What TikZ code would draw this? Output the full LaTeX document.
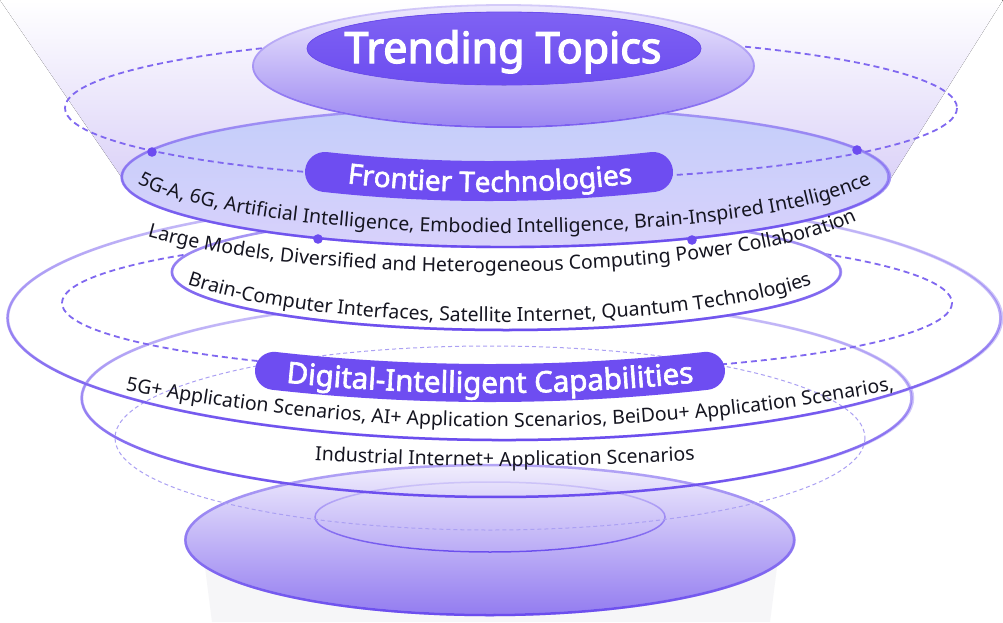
\documentclass[tikz,border=0pt]{standalone}
\usepackage{fontspec}
\setmainfont{Noto Sans}
\newfontfamily\pillsans{Noto Sans}[FakeBold=2.2]
\newfontfamily\titlesans{Noto Sans}[FakeBold=3]
\usetikzlibrary{decorations.text,fadings}
\definecolor{funB}{HTML}{DCD3F8}
\definecolor{pedc}{HTML}{F6F6F8}
\definecolor{discT}{HTML}{F0EDFD}
\definecolor{discB}{HTML}{937CF0}
\definecolor{ringL}{HTML}{CFC6F9}
\definecolor{ringD}{HTML}{6A4CEE}
\definecolor{ringAL}{HTML}{B4A6F6}
\definecolor{frontT}{HTML}{C4CEFA}
\definecolor{frontB}{HTML}{D8D1FB}
\definecolor{frontL}{HTML}{A496F5}
\definecolor{trT}{HTML}{EEEAFD}
\definecolor{trB}{HTML}{9B86F2}
\definecolor{trL}{HTML}{D4CBF9}
\definecolor{trD}{HTML}{7A5EF0}
\definecolor{inT}{HTML}{7F62F3}
\definecolor{inB}{HTML}{6C4DF0}
\definecolor{pillc}{HTML}{6E4DF1}
\definecolor{dashc}{HTML}{8068F0}
\definecolor{ringEc}{HTML}{ABA0F3}
\definecolor{dotc}{HTML}{6C4CF0}
\definecolor{txt}{HTML}{151520}
\tikzfading[name=fadetop, top color=transparent!100, bottom color=transparent!0]
\newcommand\bodyfont{\fontsize{19.5}{19.5}\selectfont}
\newcommand\pfont{\pillsans\fontsize{28}{28}\selectfont}
\newcommand\dfont{\pillsans\fontsize{29.5}{29.5}\selectfont}
\newcommand\tfont{\titlesans\fontsize{43}{43}\selectfont}
\newcommand\gring[6]{%
  \draw[#5, line width=#4] (#1) ellipse [x radius=#2, y radius=#3];
  \draw[#6, line width=#4, path fading=fadetop] (#1) ellipse [x radius=#2, y radius=#3];}
\tikzset{
  bodytext/.style={decorate, decoration={text along path, text={|\bodyfont|#1}, text align=center, text color=txt}},
  pilltext/.style={decorate, decoration={text along path, text={|\pfont|#1}, text align=center, text color=white}},
  digtext/.style={decorate, decoration={text along path, text={|\dfont|#1}, text align=center, text color=white}},
  pillstroke/.style={pillc, line width=40pt, line cap=round},
  dashring/.style={dashc, line width=1.8pt, dash pattern=on 6pt off 4pt},
  thindash/.style={ringEc, line width=1pt, dash pattern=on 4pt off 3pt},
  dotmark/.style={dotc},
  titletext/.style={anchor=base, text=white, font=\tfont, inner sep=0pt}
}
\begin{document}
\begin{tikzpicture}[x=1pt,y=-1pt]
\useasboundingbox (0,0) rectangle (1003,622);
\fill[white] (0,0) rectangle (1003,622);
% funnel
\fill[top color=white, bottom color=funB] (0,0) -- (1003,0) -- (891,178) -- (122,178) -- cycle;
% pedestal
\fill[pedc] (205,567) -- (212,622) -- (770,622) -- (777,567) -- cycle;
% bottom disc
\fill[top color=discT, bottom color=discB] (490,540) ellipse [x radius=304.5, y radius=75];
\gring{490,540}{304.5}{75}{2.5pt}{ringAL}{ringD}
\gring{490,517}{175}{35}{1.5pt}{ringL}{ringD}
% thin dashed ring
\draw[thindash] (490,438) ellipse [x radius=375, y radius=92];
% ring C
\gring{497.5,398}{415.5}{99}{2.5pt}{ringL}{ringD}
% ring B
\gring{505,318}{497}{122}{2.5pt}{ringL}{ringD}
% ring D dashed
\draw[dashring] (507,303) ellipse [x radius=445, y radius=70];
% ring A white
\fill[white] (506.5,272) ellipse [x radius=334.5, y radius=58];
\gring{506.5,272}{334.5}{58}{2.5pt}{ringAL}{ringD}
% frontier ellipse
\fill[top color=frontT, bottom color=frontB] (506,177) ellipse [x radius=384, y radius=70];
\gring{506,177}{384}{70}{2.4pt}{frontL}{ringD}
% top dashed ring
\draw[dashring] (511,108) ellipse [x radius=446, y radius=72];
% dots
\fill[dotmark] (152,152) circle [radius=4.8];
\fill[dotmark] (857,150) circle [radius=4.8];
\fill[dotmark] (318,239) circle [radius=4.8];
\fill[dotmark] (692,240) circle [radius=4.8];
% trending
\fill[top color=trT, bottom color=trB] (503.5,66) ellipse [x radius=250.5, y radius=61];
\gring{503.5,66}{250.5}{61}{1.8pt}{trL}{trD}
\fill[top color=inT, bottom color=inB] (504,48.5) ellipse [x radius=197, y radius=36.5];
\draw[inB, line width=.8pt] (504,48.5) ellipse [x radius=197, y radius=36.5];
\node[titletext] (title) at (503,63) {Trending Topics};
% pills
\draw[pillstroke] plot[domain=325:653, samples=40] (\x,{181-3.35*((\x-489)/100)^2});
\path[pilltext={Frontier Technologies}] plot[domain=300:680, samples=60] (\x,{192-4.3*((\x-490)/100)^2});
\draw[pillstroke, line width=38pt] plot[domain=274:706, samples=40] (\x,{383-2.6*((\x-490)/100)^2});
\path[digtext={Digital-Intelligent Capabilities}] plot[domain=250:730, samples=60] (\x,{393-2.5*((\x-490)/100)^2});
% curved texts
\path[bodytext={5G-A, 6G, Artificial Intelligence, Embodied Intelligence, Brain-Inspired Intelligence}]
  plot[domain=170:10, samples=120, variable=\t] ({505+390*cos(\t)},{158+75*sin(\t)});
\path[bodytext={Large Models, Diversified and Heterogeneous Computing Power Collaboration}]
  plot[domain=150:14, samples=120, variable=\t] ({480+410*cos(\t)},{187+85*sin(\t)});
\path[bodytext={Brain-Computer Interfaces, Satellite Internet, Quantum Technologies}]
  plot[domain=155:25, samples=120, variable=\t] ({500+370*cos(\t)},{242+80*sin(\t)});
\path[bodytext={5G+ Application Scenarios, AI+ Application Scenarios, BeiDou+ Application Scenarios,}]
  plot[domain=100:920, samples=100] (\x,{427-2.5*((\x-510)/100)^2});
\path[bodytext={Industrial Internet+ Application Scenarios}]
  plot[domain=280:730, samples=60] (\x,{466-1.6*((\x-505)/100)^2});
\end{tikzpicture}
\end{document}
